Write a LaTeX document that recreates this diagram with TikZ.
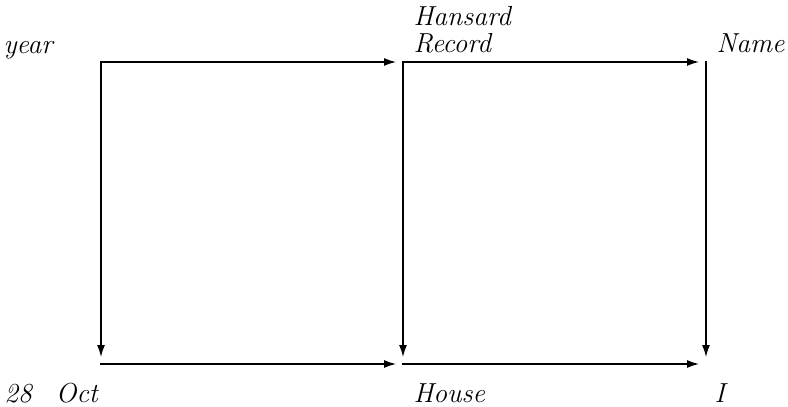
\documentclass[tikz,border=0pt]{standalone}
\usetikzlibrary{arrows.meta}
\begin{document}
\begin{tikzpicture}[x=0.4pt,y=-0.4pt,
  conn/.style={line width=0.8pt,line cap=rect,-{Latex[length=5pt,width=3.2pt]},shorten >=2.6pt},
  lbl/.style={anchor=base west,inner sep=0pt,font=\fontsize{11}{13}\selectfont\itshape}]
\useasboundingbox (0,0) rectangle (788,407);
\coordinate (tl) at (101,62);
\coordinate (tm) at (403,62);
\coordinate (tr) at (706,62);
\coordinate (bl) at (101,364);
\coordinate (bm) at (403,364);
\coordinate (br) at (706,364);
\node[lbl] (year) at (3,53) {year};
\node[lbl] (hansard) at (413,25) {Hansard};
\node[lbl] (record) at (413,52) {Record};
\node[lbl] (name) at (716,52) {Name};
\node[lbl] (date) at (4,402) {28\hspace{9.6pt}Oct};
\node[lbl] (house) at (413,402) {House};
\node[lbl] (i) at (714,402) {I};
\draw[conn] (tl) -- (tm);
\draw[conn] (tm) -- (tr);
\draw[conn] (tl) -- (bl);
\draw[conn] (tm) -- (bm);
\draw[conn] (tr) -- (br);
\draw[conn] (bl) -- (bm);
\draw[conn] (bm) -- (br);
\end{tikzpicture}
\end{document}
